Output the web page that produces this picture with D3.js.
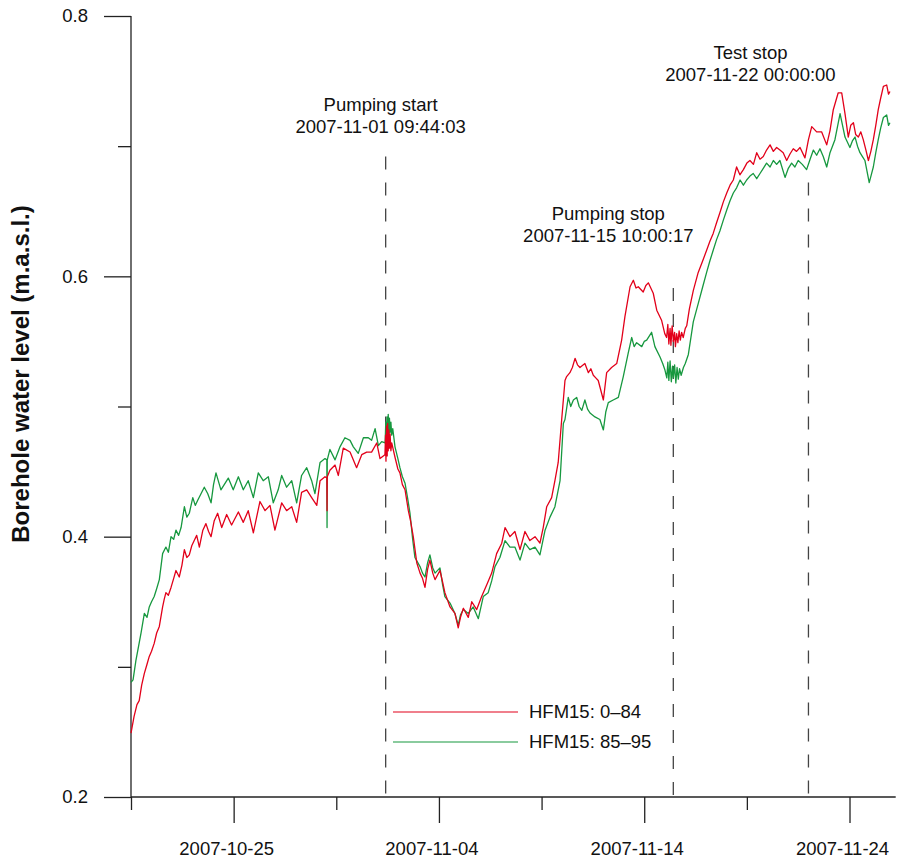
<!DOCTYPE html>
<html>
<head>
<meta charset="utf-8">
<script src="https://cdn.jsdelivr.net/npm/d3@7"></script>
<style>
  body { margin: 0; background: #fff; }
  svg text { font-family: "Liberation Sans", Arial, sans-serif; fill: #111; }
</style>
</head>
<body>
<div id="chart"></div>
<script>
// Borehole HFM15, two sections; time in days since 2007-10-20 00:00 (UTC)
var startTime = Date.UTC(2007, 9, 20);

var redDays = [0.00, 0.15, 0.29, 0.40, 0.52, 0.65, 0.78, 0.89, 1.00, 1.13, 1.25, 1.38, 1.54, 1.62, 1.70, 1.82, 1.95, 2.08, 2.19, 2.35, 2.48, 2.60, 2.72, 2.84, 2.96, 3.08, 3.20, 3.33, 3.50, 3.65, 3.78, 3.90, 4.05, 4.22, 4.42, 4.66, 4.90, 5.23, 5.47, 5.71, 5.96, 6.28, 6.53, 6.77, 7.01, 7.34, 7.58, 7.83, 8.07, 8.31, 8.56, 8.80, 9.05, 9.21, 9.45, 9.54, 9.55, 9.56, 9.69, 9.94, 10.10, 10.34, 10.67, 10.99, 11.24, 11.48, 11.72, 11.97, 12.13, 12.37, 12.40, 12.42, 12.45, 12.48, 12.50, 12.53, 12.56, 12.59, 12.62, 12.66, 12.70, 12.86, 13.00, 13.10, 13.22, 13.35, 13.51, 13.62, 13.75, 13.92, 14.08, 14.20, 14.32, 14.45, 14.56, 14.70, 14.81, 15.05, 15.18, 15.29, 15.54, 15.78, 15.94, 16.05, 16.19, 16.43, 16.60, 16.84, 17.08, 17.33, 17.57, 17.81, 18.06, 18.22, 18.46, 18.70, 18.95, 19.19, 19.43, 19.68, 19.92, 20.08, 20.25, 20.49, 20.65, 20.81, 20.98, 21.14, 21.22, 21.38, 21.50, 21.63, 21.75, 21.87, 22.11, 22.28, 22.40, 22.52, 22.64, 22.76, 23.01, 23.17, 23.41, 23.66, 23.90, 24.06, 24.31, 24.47, 24.60, 24.71, 24.95, 25.08, 25.20, 25.44, 25.61, 25.85, 26.00, 26.09, 26.15, 26.20, 26.26, 26.30, 26.36, 26.42, 26.48, 26.52, 26.58, 26.64, 26.70, 26.76, 26.82, 26.90, 27.00, 27.07, 27.20, 27.39, 27.63, 27.85, 28.04, 28.20, 28.36, 28.52, 28.69, 28.85, 29.02, 29.18, 29.34, 29.50, 29.66, 29.83, 30.00, 30.15, 30.32, 30.48, 30.64, 30.80, 30.96, 31.13, 31.29, 31.45, 31.61, 31.77, 31.94, 32.10, 32.26, 32.42, 32.59, 32.83, 33.00, 33.16, 33.40, 33.64, 33.89, 34.05, 34.21, 34.45, 34.62, 34.78, 34.94, 35.06, 35.19, 35.30, 35.43, 35.55, 35.67, 35.80, 35.92, 36.04, 36.16, 36.28, 36.40, 36.52, 36.65, 36.81, 36.90, 36.97];
var redLevel = [0.249, 0.262, 0.271, 0.274, 0.286, 0.295, 0.302, 0.308, 0.312, 0.318, 0.326, 0.331, 0.346, 0.352, 0.357, 0.355, 0.361, 0.368, 0.374, 0.369, 0.378, 0.390, 0.384, 0.386, 0.393, 0.397, 0.401, 0.392, 0.405, 0.410, 0.404, 0.400, 0.412, 0.418, 0.407, 0.417, 0.409, 0.419, 0.411, 0.420, 0.403, 0.427, 0.420, 0.424, 0.405, 0.426, 0.420, 0.423, 0.411, 0.434, 0.436, 0.430, 0.424, 0.443, 0.446, 0.445, 0.420, 0.446, 0.451, 0.455, 0.447, 0.468, 0.465, 0.453, 0.463, 0.465, 0.465, 0.472, 0.460, 0.463, 0.478, 0.458, 0.485, 0.462, 0.487, 0.466, 0.482, 0.468, 0.479, 0.466, 0.472, 0.461, 0.452, 0.449, 0.440, 0.436, 0.420, 0.412, 0.400, 0.380, 0.372, 0.368, 0.361, 0.375, 0.382, 0.372, 0.367, 0.374, 0.365, 0.357, 0.346, 0.341, 0.330, 0.338, 0.345, 0.338, 0.350, 0.344, 0.354, 0.363, 0.372, 0.387, 0.395, 0.407, 0.400, 0.404, 0.390, 0.404, 0.397, 0.400, 0.395, 0.407, 0.423, 0.430, 0.443, 0.457, 0.490, 0.520, 0.523, 0.526, 0.530, 0.537, 0.532, 0.530, 0.533, 0.526, 0.529, 0.524, 0.522, 0.520, 0.505, 0.526, 0.530, 0.533, 0.551, 0.569, 0.592, 0.597, 0.591, 0.592, 0.588, 0.593, 0.595, 0.587, 0.574, 0.566, 0.556, 0.553, 0.563, 0.548, 0.560, 0.547, 0.562, 0.550, 0.557, 0.546, 0.556, 0.549, 0.558, 0.551, 0.557, 0.553, 0.560, 0.562, 0.575, 0.589, 0.603, 0.612, 0.620, 0.627, 0.633, 0.641, 0.649, 0.657, 0.664, 0.670, 0.674, 0.684, 0.678, 0.682, 0.687, 0.689, 0.686, 0.695, 0.690, 0.692, 0.697, 0.701, 0.696, 0.699, 0.697, 0.695, 0.689, 0.694, 0.698, 0.696, 0.699, 0.691, 0.705, 0.715, 0.711, 0.711, 0.701, 0.712, 0.728, 0.741, 0.741, 0.725, 0.707, 0.716, 0.718, 0.709, 0.707, 0.711, 0.705, 0.697, 0.689, 0.696, 0.705, 0.716, 0.728, 0.737, 0.746, 0.747, 0.740, 0.742];

var greenDays = [0.00, 0.10, 0.24, 0.37, 0.49, 0.65, 0.78, 0.89, 1.00, 1.13, 1.25, 1.38, 1.54, 1.70, 1.82, 1.95, 2.08, 2.19, 2.32, 2.44, 2.60, 2.72, 2.84, 3.01, 3.13, 3.25, 3.41, 3.57, 3.74, 3.90, 4.02, 4.14, 4.38, 4.74, 4.98, 5.23, 5.47, 5.71, 5.96, 6.20, 6.44, 6.69, 6.93, 7.17, 7.34, 7.58, 7.83, 8.07, 8.31, 8.56, 8.80, 8.96, 9.21, 9.45, 9.54, 9.55, 9.56, 9.69, 9.94, 10.18, 10.42, 10.67, 10.83, 11.07, 11.32, 11.56, 11.72, 11.89, 12.05, 12.21, 12.38, 12.41, 12.44, 12.47, 12.50, 12.53, 12.56, 12.59, 12.62, 12.66, 12.70, 12.75, 12.86, 13.00, 13.10, 13.22, 13.35, 13.47, 13.59, 13.72, 13.83, 14.08, 14.20, 14.32, 14.45, 14.56, 14.70, 14.81, 15.05, 15.18, 15.29, 15.54, 15.78, 15.94, 16.05, 16.19, 16.43, 16.67, 16.92, 17.16, 17.40, 17.57, 17.73, 17.97, 18.22, 18.46, 18.70, 18.95, 19.19, 19.43, 19.68, 19.92, 20.17, 20.41, 20.65, 20.90, 21.06, 21.14, 21.30, 21.42, 21.55, 21.71, 21.83, 21.96, 22.11, 22.24, 22.36, 22.60, 22.84, 23.01, 23.13, 23.25, 23.49, 23.74, 23.98, 24.22, 24.39, 24.51, 24.63, 24.88, 25.00, 25.12, 25.36, 25.52, 25.77, 25.90, 26.01, 26.10, 26.15, 26.20, 26.26, 26.32, 26.38, 26.42, 26.48, 26.54, 26.60, 26.66, 26.72, 26.80, 26.91, 27.00, 27.15, 27.39, 27.63, 27.85, 28.04, 28.20, 28.36, 28.52, 28.69, 28.85, 29.02, 29.18, 29.34, 29.50, 29.67, 29.83, 29.99, 30.15, 30.31, 30.48, 30.64, 30.80, 30.96, 31.13, 31.29, 31.45, 31.61, 31.86, 32.02, 32.18, 32.34, 32.50, 32.70, 32.91, 33.08, 33.24, 33.40, 33.56, 33.72, 33.89, 34.05, 34.29, 34.54, 34.78, 35.02, 35.14, 35.27, 35.39, 35.51, 35.63, 35.75, 35.96, 36.06, 36.16, 36.28, 36.40, 36.52, 36.65, 36.81, 36.90, 36.97];
var greenLevel = [0.288, 0.290, 0.305, 0.316, 0.326, 0.341, 0.338, 0.346, 0.350, 0.354, 0.360, 0.367, 0.387, 0.392, 0.388, 0.400, 0.398, 0.405, 0.401, 0.407, 0.423, 0.415, 0.418, 0.430, 0.424, 0.428, 0.433, 0.438, 0.433, 0.426, 0.440, 0.449, 0.436, 0.445, 0.436, 0.446, 0.436, 0.443, 0.430, 0.449, 0.443, 0.446, 0.426, 0.436, 0.447, 0.438, 0.443, 0.426, 0.447, 0.453, 0.443, 0.433, 0.457, 0.460, 0.459, 0.407, 0.459, 0.467, 0.459, 0.469, 0.476, 0.474, 0.469, 0.464, 0.476, 0.476, 0.474, 0.483, 0.470, 0.473, 0.472, 0.488, 0.470, 0.492, 0.474, 0.494, 0.478, 0.491, 0.480, 0.488, 0.478, 0.483, 0.469, 0.460, 0.453, 0.446, 0.441, 0.430, 0.418, 0.398, 0.384, 0.377, 0.372, 0.369, 0.380, 0.386, 0.376, 0.372, 0.376, 0.363, 0.354, 0.349, 0.341, 0.332, 0.340, 0.344, 0.341, 0.346, 0.337, 0.354, 0.357, 0.366, 0.377, 0.384, 0.397, 0.392, 0.392, 0.382, 0.395, 0.390, 0.392, 0.386, 0.405, 0.415, 0.423, 0.443, 0.487, 0.490, 0.507, 0.500, 0.505, 0.507, 0.500, 0.497, 0.505, 0.498, 0.495, 0.492, 0.490, 0.482, 0.496, 0.503, 0.505, 0.507, 0.523, 0.541, 0.553, 0.546, 0.549, 0.546, 0.550, 0.551, 0.557, 0.546, 0.538, 0.533, 0.528, 0.522, 0.534, 0.520, 0.535, 0.519, 0.531, 0.522, 0.532, 0.518, 0.530, 0.521, 0.529, 0.524, 0.530, 0.533, 0.540, 0.565, 0.579, 0.592, 0.603, 0.612, 0.620, 0.628, 0.635, 0.643, 0.651, 0.658, 0.664, 0.668, 0.674, 0.670, 0.674, 0.677, 0.679, 0.675, 0.679, 0.683, 0.687, 0.684, 0.689, 0.686, 0.689, 0.676, 0.683, 0.687, 0.684, 0.689, 0.686, 0.682, 0.690, 0.697, 0.693, 0.698, 0.692, 0.684, 0.695, 0.705, 0.725, 0.707, 0.699, 0.704, 0.707, 0.700, 0.695, 0.692, 0.689, 0.672, 0.678, 0.684, 0.695, 0.705, 0.714, 0.722, 0.724, 0.716, 0.718];

var seriesNames = ["HFM15: 0\u201384", "HFM15: 85\u201395"];
var seriesColors = ["#e2001a", "#17983f"];

var eventNames = ["Pumping start", "Pumping stop", "Test stop"];
var eventStamps = ["2007-11-01 09:44:03", "2007-11-15 10:00:17", "2007-11-22 00:00:00"];

var yMajorTicks = [0.2, 0.4, 0.6, 0.8];
var yMinorTicks = [0.3, 0.5, 0.7];
var xMajorTicks = ["2007-10-25", "2007-11-04", "2007-11-14", "2007-11-24"];
var xMinorTicks = ["2007-10-20", "2007-10-30", "2007-11-09", "2007-11-19"];

// layout
var W = 899, H = 858;
var plot = { left: 131, right: 895.7, top: 16, bottom: 797 };
// [dashed line top (level), label centre offset (px), label baseline of 2nd line (level)]
var eventLayout = [[0.692, -5, 0.710], [0.591, -65, 0.626], [0.672, -58, 0.750]];
var fs = 18.5;

var parseDay = d3.utcParse("%Y-%m-%d");
var parseStamp = d3.utcParse("%Y-%m-%d %H:%M:%S");
function toDate(d) { return new Date(startTime + d * 86400000); }

var x = d3.scaleUtc()
    .domain([new Date(startTime), new Date(Date.UTC(2007, 10, 26, 6))])
    .range([plot.left, plot.right]);
var y = d3.scaleLinear()
    .domain([0.2, 0.8])
    .range([plot.bottom, plot.top]);

var svg = d3.select("#chart").append("svg")
    .attr("width", W)
    .attr("height", H);

// axes
var axisColor = "#222";
function styleAxis(g) {
    g.select(".domain").remove();
    g.selectAll(".tick line").attr("stroke", axisColor).attr("stroke-width", 1.3);
    g.selectAll(".tick text").style("font-size", fs + "px").attr("fill", "#111");
}

svg.append("g")
    .attr("transform", "translate(0," + plot.bottom + ")")
    .call(d3.axisBottom(x).tickValues(xMajorTicks.map(parseDay)).tickSize(26).tickPadding(19)
        .tickFormat(d3.utcFormat("%Y-%m-%d")))
    .call(styleAxis)
    .selectAll(".tick text").attr("dx", -7.5);
svg.append("g")
    .attr("transform", "translate(0," + plot.bottom + ")")
    .call(d3.axisBottom(x).tickValues(xMinorTicks.map(parseDay)).tickSize(13).tickFormat(""))
    .call(styleAxis);
svg.append("g")
    .attr("transform", "translate(" + plot.left + ",0)")
    .call(d3.axisLeft(y).tickValues(yMajorTicks).tickSize(27).tickPadding(16).tickFormat(d3.format(".1f")))
    .call(styleAxis);
svg.append("g")
    .attr("transform", "translate(" + plot.left + ",0)")
    .call(d3.axisLeft(y).tickValues(yMinorTicks).tickSize(13).tickFormat(""))
    .call(styleAxis);

svg.append("line")
    .attr("x1", plot.left).attr("x2", plot.left)
    .attr("y1", y(0.8)).attr("y2", y(0.2))
    .attr("stroke", axisColor).attr("stroke-width", 1.3);
svg.append("line")
    .attr("x1", plot.left).attr("x2", plot.right)
    .attr("y1", y(0.2)).attr("y2", y(0.2))
    .attr("stroke", axisColor).attr("stroke-width", 1.3);

svg.append("text")
    .attr("transform", "translate(29,374) rotate(-90)")
    .attr("text-anchor", "middle")
    .style("font-size", "24px")
    .style("font-weight", "bold")
    .text("Borehole water level (m.a.s.l.)");

// event markers
eventNames.forEach(function (name, i) {
    var t = parseStamp(eventStamps[i]);
    var lay = eventLayout[i];
    svg.append("line")
        .attr("x1", x(t)).attr("x2", x(t))
        .attr("y1", y(lay[0])).attr("y2", y(0.2))
        .attr("stroke", "#444").attr("stroke-width", 1.3)
        .attr("stroke-dasharray", "13,13");
    var tx = svg.append("text")
        .attr("text-anchor", "middle")
        .style("font-size", fs + "px");
    tx.append("tspan").attr("x", x(t) + lay[1]).attr("y", y(lay[2]) - 22).text(name);
    tx.append("tspan").attr("x", x(t) + lay[1]).attr("y", y(lay[2])).text(eventStamps[i]);
});

// series
var line = d3.line()
    .x(function (d) { return x(toDate(d[0])); })
    .y(function (d) { return y(d[1]); });

var greenData = d3.zip(greenDays, greenLevel);
var redData = d3.zip(redDays, redLevel);

svg.append("path")
    .datum(greenData)
    .attr("fill", "none")
    .attr("stroke", seriesColors[1])
    .attr("stroke-width", 1.3)
    .attr("stroke-linejoin", "round")
    .attr("d", line);
svg.append("path")
    .datum(redData)
    .attr("fill", "none")
    .attr("stroke", seriesColors[0])
    .attr("stroke-width", 1.3)
    .attr("stroke-linejoin", "round")
    .attr("d", line);

// legend
var legend = svg.append("g").attr("transform", "translate(393,712)");
seriesNames.forEach(function (name, i) {
    legend.append("line")
        .attr("x1", 0).attr("x2", 125)
        .attr("y1", i * 30).attr("y2", i * 30)
        .attr("stroke", seriesColors[i]).attr("stroke-width", 1.2);
    legend.append("text")
        .attr("x", 136).attr("y", i * 30)
        .attr("dy", "0.35em")
        .style("font-size", fs + "px")
        .text(name);
});
</script>
</body>
</html>
